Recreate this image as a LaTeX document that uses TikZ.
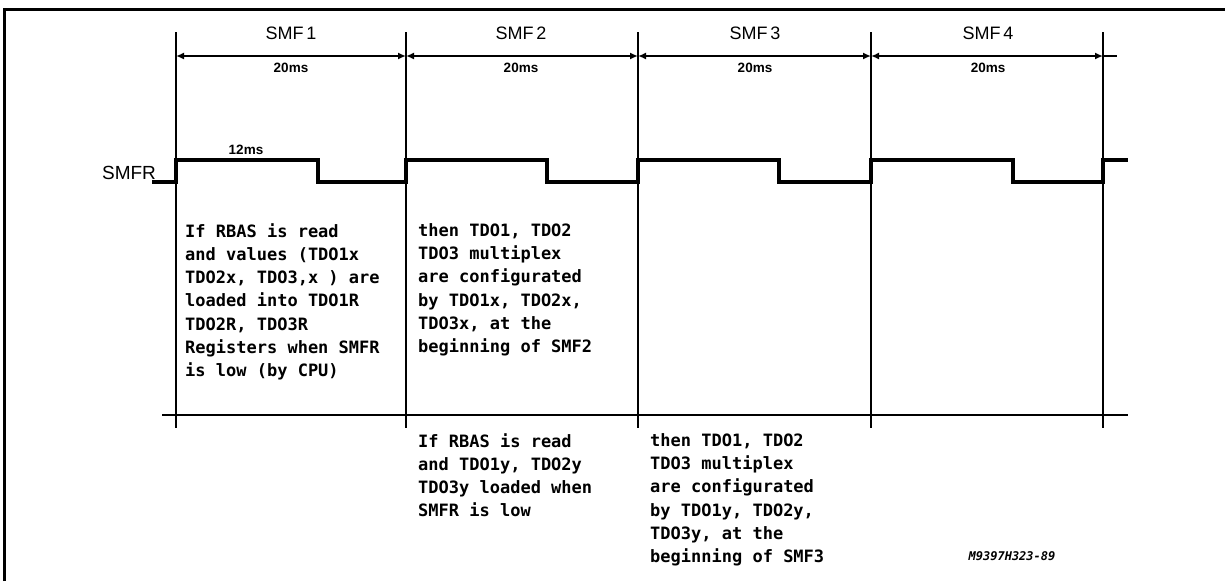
\documentclass[tikz,border=0pt]{standalone}
\usepackage{fontspec}
\setmainfont{Liberation Sans}
\newfontfamily\monofnt{DejaVu Sans Mono}
\usetikzlibrary{arrows.meta}
\begin{document}
\begin{tikzpicture}[x=1pt,y=-1pt,
  frameline/.style={line width=3pt},
  gridline/.style={line width=2.8pt},
  sigline/.style={line width=3.6pt, line join=miter},
  dimline/.style={line width=2.2pt, {Latex[length=8pt,width=7pt]}-{Latex[length=8pt,width=7pt]}},
  smflabel/.style={font=\fontsize{18}{20}\selectfont, anchor=center, inner sep=0pt},
  mslabel/.style={font=\bfseries\fontsize{13.5}{15}\selectfont, anchor=center, inner sep=0pt},
  txtblock/.style={font=\monofnt\bfseries\fontsize{17}{23.3}\selectfont, align=left, anchor=north west, inner sep=0pt}
]
\useasboundingbox (0,0) rectangle (1225,581);
% frame
\draw[frameline] (4,581) -- (4,9) -- (1225,9);
% time marks
\foreach \n/\x in {a/176,b/406,c/638,d/871,e/1103}{
  \coordinate (t\n) at (\x,32);
  \coordinate (m\n) at (\x,56);
  \coordinate (u\n) at (\x,428);
  \draw[gridline] (t\n) -- (u\n);
}
\coordinate (mend) at (1117,56);
\draw[dimline] (ma) -- (mb);
\draw[dimline] (mb) -- (mc);
\draw[dimline] (mc) -- (md);
\draw[dimline] (md) -- (me);
\draw[line width=2.2pt] (me) -- (mend);
% bottom line
\coordinate (bl) at (162,415);
\coordinate (br) at (1128,415);
\draw[gridline] (bl) -- (br);
% labels
\node[smflabel] (s1) at (291,33) {SMF\hspace{3pt}1};
\node[smflabel] (s2) at (521,33) {SMF\hspace{3pt}2};
\node[smflabel] (s3) at (755,33) {SMF\hspace{3pt}3};
\node[smflabel] (s4) at (988,33) {SMF\hspace{3pt}4};
\node[mslabel] (d1) at (291,68) {20ms};
\node[mslabel] (d2) at (521,68) {20ms};
\node[mslabel] (d3) at (755,68) {20ms};
\node[mslabel] (d4) at (988,68) {20ms};
\node[mslabel] (w12) at (246,150) {12ms};
\node[font=\fontsize{19}{21}\selectfont, anchor=center, inner sep=0pt] (smfr) at (129,173) {SMFR};
% waveform
\draw[sigline] (152,182) -- (176,182) -- (176,160) -- (318,160) -- (318,182) -- (406,182) -- (406,160)
  -- (547,160) -- (547,182) -- (638,182) -- (638,160) -- (779,160) -- (779,182) -- (871,182) -- (871,160)
  -- (1013,160) -- (1013,182) -- (1103,182) -- (1103,160) -- (1128,160);
% text blocks
\node[txtblock] (b1) at (185,223) {If RBAS is read\\and values (TDO1x\\TDO2x, TDO3,x ) are\\loaded into TDO1R\\TDO2R, TDO3R\\Registers when SMFR\\is low (by CPU)};
\node[txtblock] (b2) at (418,223) {then TDO1, TDO2\\TDO3 multiplex\\are configurated\\by TDO1x, TDO2x,\\TDO3x, at the\\beginning of SMF2};
\node[txtblock] (b3) at (418,433) {If RBAS is read\\and TDO1y, TDO2y\\TDO3y loaded when\\SMFR is low};
\node[txtblock] (b4) at (650,433) {then TDO1, TDO2\\TDO3 multiplex\\are configurated\\by TDO1y, TDO2y,\\TDO3y, at the\\beginning of SMF3};
\node[font=\monofnt\bfseries\itshape\fontsize{12}{14}\selectfont, anchor=center, inner sep=0pt] (ref) at (1012,556) {M9397H323-89};
\end{tikzpicture}
\end{document}
